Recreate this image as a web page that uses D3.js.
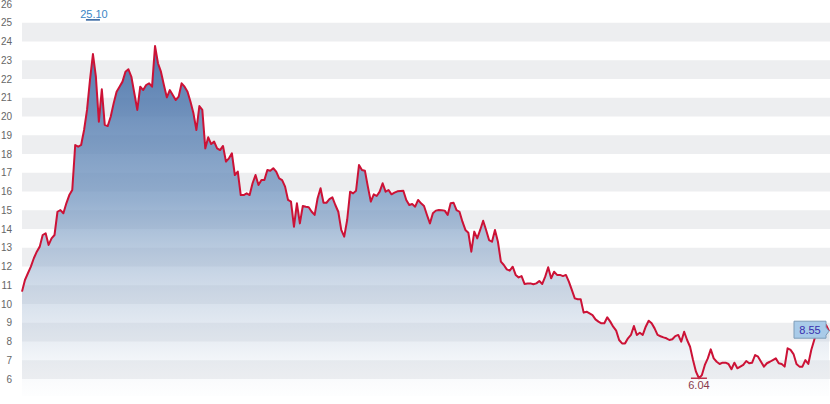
<!DOCTYPE html>
<html><head><meta charset="utf-8">
<script src="https://cdn.jsdelivr.net/npm/d3@7"></script>
<style>body{margin:0;background:#fff;} svg{display:block;font-family:"Liberation Sans",Arial,sans-serif;}</style>
</head><body><svg id="chart" width="830" height="404"></svg>
<script>
const prices = [
10.66,11.28,11.64,11.99,12.44,12.79,13.06,13.68,13.77,13.15,13.50,13.68,14.92,15.01,14.84,15.37,15.81,16.08,18.48,18.39,
18.48,19.28,20.35,21.95,23.33,22.12,19.72,21.45,19.55,19.49,19.99,20.70,21.32,21.59,21.86,22.39,22.52,22.12,21.24,20.35,
21.59,21.41,21.68,21.77,21.59,23.76,
22.84,22.39,21.68,21.02,21.41,21.15,20.88,21.06,21.77,21.59,21.32,20.79,20.17,19.28,20.56,20.35,18.30,18.89,18.53,18.66,
18.30,18.21,18.43,17.59,17.77,18.04,16.88,17.06,15.81,15.81,15.90,15.81,16.44,16.88,16.35,16.61,16.61,17.15,17.11,17.24,
17.06,16.70,16.61,16.26,15.55,15.46,14.12,15.37,14.30,15.23,15.19,15.16,14.92,14.75,15.64,16.17,15.40,15.40,15.59,15.69,
15.28,14.92,13.95,13.59,14.48,15.99,15.90,16.04,17.41,
17.15,17.11,16.26,15.46,15.85,15.76,15.99,16.44,15.99,16.08,15.85,15.94,16.01,16.03,16.04,15.55,15.28,15.33,15.19,15.55,
15.37,15.23,14.75,14.30,14.84,14.98,15.01,15.00,14.98,14.75,15.37,15.40,15.01,14.92,14.39,13.95,13.80,12.79,13.86,13.50,
13.95,14.44,13.95,13.41,13.32,13.95,13.32,12.26,
12.08,11.85,11.78,11.99,11.55,11.42,11.49,11.07,11.09,11.10,11.05,11.10,11.23,11.07,11.46,11.96,11.37,11.72,11.55,11.55,
11.49,11.55,11.19,10.75,10.30,10.25,10.25,9.54,9.59,9.50,9.41,9.18,9.06,8.97,8.97,9.29,9.06,8.79,8.58,8.08,
7.90,7.90,8.17,8.35,8.83,8.35,8.47,8.35,8.79,9.11,8.97,8.70,8.35,8.28,8.22,8.17,8.08,8.12,8.29,8.35,
7.99,8.52,8.08,7.72,7.01,6.39,6.04,
6.21,6.75,7.10,7.58,7.10,6.92,6.80,6.87,6.87,6.80,6.52,6.87,6.57,6.66,6.75,6.96,6.84,6.87,7.28,7.19,
6.92,6.66,6.84,6.92,7.01,7.10,6.84,6.80,6.66,7.64,7.55,7.33,6.80,6.66,6.66,7.01,6.80,7.55,8.08,8.61,
8.83,8.65,8.88,8.55
];
const yTickValues = [6,7,8,9,10,11,12,13,14,15,16,17,18,19,20,21,22,23,24,25,26];
const highValue = 25.10;
const highIndex = 24;
const lowValue = 6.04;
const lastValue = 8.55;

const svg = d3.select("#chart");
const plotLeft = 22, plotRight = 830, plotBottom = 396;
const x = d3.scaleLinear().domain([0, prices.length - 1]).range([22, 829]);
const y = d3.scaleLinear().domain([6, 26]).range([379, 4]);

// stripes
const bands = yTickValues.filter(v => v < 26 && v % 2 === 0);
svg.append("g").selectAll("rect").data(bands).join("rect")
  .attr("x", plotLeft).attr("width", plotRight - plotLeft)
  .attr("y", d => y(d + 1)).attr("height", d => y(d) - y(d + 1))
  .attr("fill", "#edeef0");

// gradient
const defs = svg.append("defs");
const grad = defs.append("linearGradient").attr("id", "fillGrad")
  .attr("gradientUnits", "userSpaceOnUse")
  .attr("x1", 0).attr("x2", 0).attr("y1", 40).attr("y2", plotBottom);
grad.append("stop").attr("offset", "0%").attr("stop-color", "#3f6aa4").attr("stop-opacity", 0.92);
grad.append("stop").attr("offset", "45%").attr("stop-color", "#7396c0").attr("stop-opacity", 0.75);
grad.append("stop").attr("offset", "85%").attr("stop-color", "#c9d5e4").attr("stop-opacity", 0.4);
grad.append("stop").attr("offset", "100%").attr("stop-color", "#eef2f7").attr("stop-opacity", 0.1);

const area = d3.area().x((d, i) => x(i)).y0(plotBottom).y1(d => y(d));
svg.append("path").datum(prices).attr("d", area).attr("fill", "url(#fillGrad)");

const line = d3.line().x((d, i) => x(i)).y(d => y(d));
svg.append("path").datum(prices).attr("d", line)
  .attr("fill", "none").attr("stroke", "#cc1236").attr("stroke-width", 2)
  .attr("stroke-linejoin", "round");

// axis
const axis = d3.axisLeft(y).tickValues(yTickValues).tickSize(0).tickPadding(3).tickFormat(d3.format("d"));
const gAxis = svg.append("g").attr("transform", "translate(15,0)").call(axis);
gAxis.select(".domain").remove();
gAxis.selectAll("text").attr("fill", "#666").attr("font-size", "10px")
  .attr("font-family", "'Liberation Sans',Arial,sans-serif");

// high marker
const hx = x(highIndex), hy = y(highValue);
svg.append("line").attr("x1", hx - 7).attr("x2", hx + 7).attr("y1", hy - 1).attr("y2", hy - 1)
  .attr("stroke", "#2a5d9c").attr("stroke-width", 1.5);
svg.append("text").attr("x", hx + 1).attr("y", hy - 3).attr("text-anchor", "middle")
  .attr("font-size", "11px").attr("fill", "#3a86c6").text(highValue.toFixed(2));

// low marker
const lowIndex = d3.minIndex(prices);
const lx = x(lowIndex), ly = y(lowValue);
svg.append("line").attr("x1", lx - 8).attr("x2", lx + 8).attr("y1", ly).attr("y2", ly)
  .attr("stroke", "#c0304a").attr("stroke-width", 1.5);
svg.append("text").attr("x", lx).attr("y", ly + 11).attr("text-anchor", "middle")
  .attr("font-size", "11px").attr("fill", "#8a3a4c").text(lowValue.toFixed(2));

// last value callout
const tx = x(prices.length - 1), ty = y(lastValue);
const bw = 32, bh = 17, br = tx - 3, bl = br - bw, bt = ty - 10, bb = bt + bh;
svg.append("path")
  .attr("d", `M${bl},${bt}H${br}V${ty - 4}L${tx},${ty}L${br},${ty + 4}V${bb}H${bl}Z`)
  .attr("fill", "#a9cbe9").attr("stroke", "#7f9db8").attr("stroke-width", 1);
svg.append("text").attr("x", (bl + br) / 2).attr("y", bt + 12.5).attr("text-anchor", "middle")
  .attr("font-size", "11px").attr("fill", "#3a2fae").text(lastValue.toFixed(2));
</script></body></html>
